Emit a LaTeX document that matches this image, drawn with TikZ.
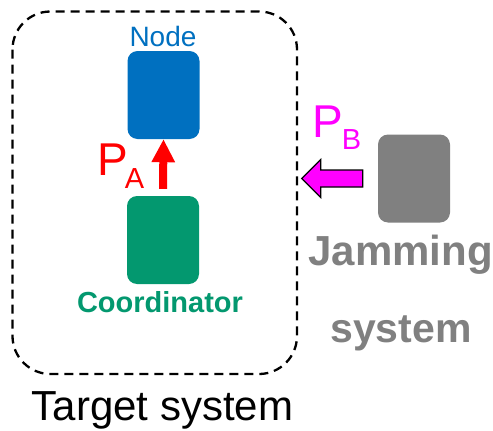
\documentclass[tikz,border=0pt]{standalone}
\usepackage{fontspec}
\setmainfont{Liberation Sans}
\usetikzlibrary{arrows.meta}
\definecolor{nodeblue}{HTML}{0070C0}
\definecolor{coordgreen}{HTML}{03986F}
\definecolor{jamgrey}{HTML}{808080}
\definecolor{pmag}{HTML}{FF00FF}
\tikzset{
  device/.style={rounded corners=10pt, minimum width=72pt, minimum height=88pt, inner sep=0pt},
  lbl/.style={inner sep=0pt, anchor=base},
}
\newcommand{\fsz}[1]{\fontsize{#1}{#1}\selectfont}
\begin{document}
\begin{tikzpicture}[x=1pt,y=-1pt]
  \useasboundingbox (0,0) rectangle (493,431);
  % system boundary
  \draw[dash pattern=on 9pt off 6pt, line width=2.3pt, rounded corners=38pt]
    (12.5,11.5) rectangle (297,374);
  % devices
  \node[device, fill=nodeblue] (node) at (163.5,95) {};
  \node[device, fill=coordgreen] (coord) at (163,240) {};
  \node[device, fill=jamgrey] (jam) at (414,178.5) {};
  % labels
  \node[lbl, text=nodeblue] (nodelbl) at (163,46) {\fsz{28}Node};
  \node[lbl, text=coordgreen] (coordlbl) at (160,312) {\fsz{29}\bfseries Coordinator};
  \node[lbl, text=jamgrey] (jamlbl) at (400.5,265) {\fsz{42}\bfseries Jamming};
  \node[lbl, text=jamgrey] (syslbl) at (401,342) {\fsz{41}\bfseries system};
  \node[lbl] (tgtlbl) at (162.5,420) {\fsz{42}Target system};
  % power labels
  \node[inner sep=0pt, anchor=base west, text=red] (pa) at (97,175)
    {\fsz{46}P\kern-3pt\raisebox{-13pt}{\fsz{29}A}};
  \node[inner sep=0pt, anchor=base west, text=pmag] (pb) at (312,137)
    {\fsz{46}P\kern-1pt\raisebox{-12pt}{\fsz{29}B}};
  % signal from coordinator to node
  \draw[red, line width=8pt, -{Triangle[width=22pt,length=23pt]}]
    ([yshift=7pt]coord.north) -- (node.south);
  % jamming signal (block arrow)
  \coordinate (jt) at ([xshift=-15pt]jam.west);
  \draw[fill=pmag, line width=1.2pt, line join=miter]
    (jt) ++(0,-8.5) -- ++(-42,0) -- ++(0,-10.5) -- ++(-19,19)
    -- ++(19,19) -- ++(0,-10.5) -- ++(42,0) -- cycle;
\end{tikzpicture}
\end{document}
